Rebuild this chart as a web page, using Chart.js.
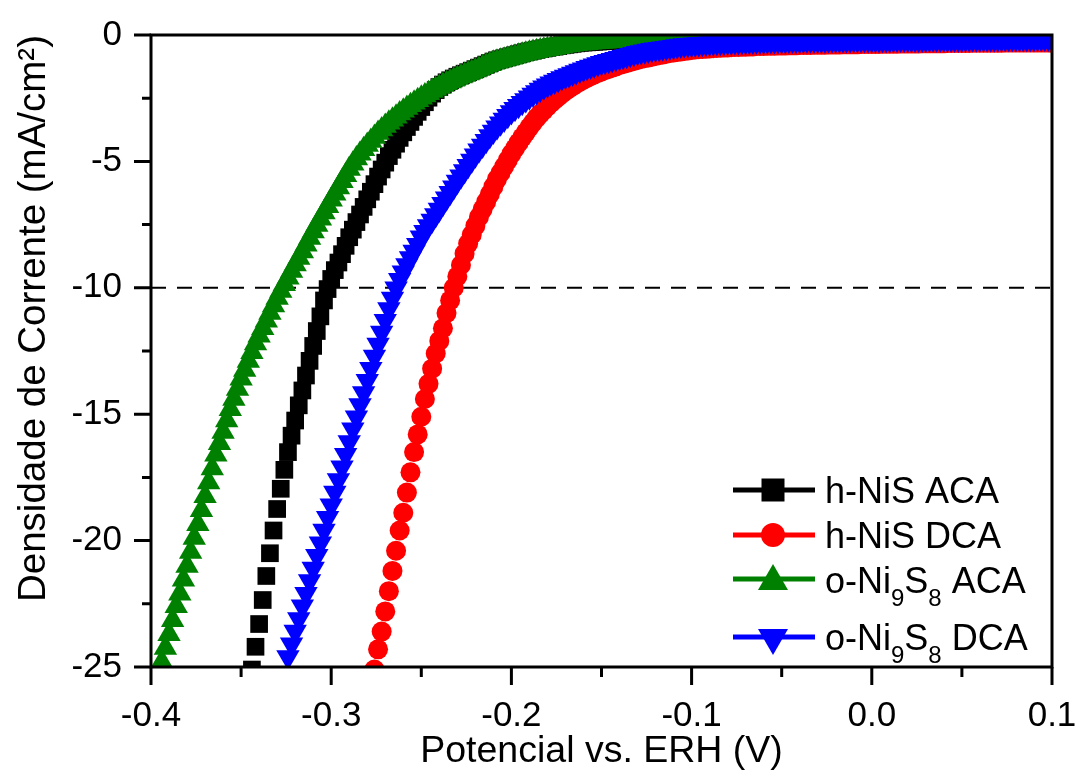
<!DOCTYPE html>
<html lang="pt">
<head>
<meta charset="UTF-8">
<title>Densidade de Corrente vs Potencial</title>
<script src="https://cdn.jsdelivr.net/npm/chart.js"></script>
<style>
  html, body { margin: 0; padding: 0; background: #ffffff; }
  #caixa { width: 1075px; height: 774px; }
</style>
</head>
<body>
<div id="caixa"><canvas id="grafico"></canvas></div>
<script>
// passo de potencial das varreduras (V)
const passo = 0.002;

// h-NiS ACA
const inicioNiSACA = -0.344;
const jNiSACA = [
  -25.1, -24.2, -23.3, -22.35, -21.4, -20.5, -19.6, -18.75, -17.95, -17.2,
  -16.5, -15.85, -15.25, -14.65, -14.06, -13.47, -12.89, -12.3, -11.71, -11.13,
  -10.5, -10.05, -9.65, -9.3, -9.0, -8.67, -8.34, -8.0, -7.7, -7.4,
  -7.1, -6.8, -6.5, -6.2, -5.9, -5.6, -5.32, -5.05, -4.79, -4.54,
  -4.3, -4.07, -3.85, -3.64, -3.44, -3.24, -3.04, -2.85, -2.66, -2.48,
  -2.32, -2.18, -2.06, -1.96, -1.87, -1.79, -1.72, -1.65, -1.59, -1.53,
  -1.47, -1.41, -1.35, -1.29, -1.23, -1.17, -1.11, -1.05, -1.0, -0.96,
  -0.92, -0.88, -0.84, -0.8, -0.76, -0.72, -0.68, -0.65, -0.62, -0.59,
  -0.56, -0.53, -0.51, -0.48, -0.46, -0.44, -0.41, -0.39, -0.37, -0.35,
  -0.33, -0.31, -0.3, -0.29, -0.28, -0.27, -0.26, -0.25, -0.24, -0.23,
  -0.22, -0.22, -0.21, -0.21, -0.2, -0.2, -0.19, -0.19, -0.19, -0.18,
  -0.18, -0.18, -0.18, -0.18, -0.18, -0.17, -0.17, -0.17, -0.17, -0.17,
  -0.17, -0.17, -0.17, -0.16, -0.16, -0.16, -0.16, -0.16, -0.16, -0.16,
  -0.16, -0.16, -0.16, -0.15, -0.15, -0.15, -0.15, -0.15, -0.15, -0.15,
  -0.15, -0.15, -0.15, -0.15, -0.14, -0.14, -0.14, -0.14, -0.14, -0.14,
  -0.14, -0.14, -0.14, -0.14, -0.14, -0.13, -0.13, -0.13, -0.13, -0.13,
  -0.13, -0.13, -0.13, -0.13, -0.13, -0.13, -0.13, -0.13, -0.13, -0.13,
  -0.13, -0.13, -0.12, -0.12, -0.12, -0.12, -0.12, -0.12, -0.12, -0.12,
  -0.12, -0.12, -0.12, -0.12, -0.12, -0.12, -0.12, -0.12, -0.12, -0.12,
  -0.12, -0.12, -0.11, -0.11, -0.11, -0.11, -0.11, -0.11, -0.11, -0.11,
  -0.11, -0.11, -0.11, -0.11, -0.11, -0.11, -0.11, -0.11, -0.11, -0.11,
  -0.11, -0.11, -0.1, -0.1, -0.1, -0.1, -0.1, -0.1, -0.1, -0.1,
  -0.1, -0.1, -0.1
];

// h-NiS DCA
const inicioNiSDCA = -0.276;
const jNiSDCA = [
  -25.1, -24.3, -23.6, -22.8, -22.0, -21.2, -20.4, -19.6, -18.9, -18.1,
  -17.3, -16.5, -15.8, -15.1, -14.4, -13.8, -13.2, -12.6, -12.1, -11.6,
  -11.0, -10.5, -10.0, -9.55, -9.1, -8.65, -8.25, -7.9, -7.55, -7.2,
  -6.9, -6.6, -6.3, -6.0, -5.7, -5.45, -5.2, -4.95, -4.7, -4.48,
  -4.26, -4.05, -3.85, -3.65, -3.46, -3.28, -3.12, -2.97, -2.83, -2.69,
  -2.56, -2.44, -2.32, -2.21, -2.11, -2.02, -1.93, -1.85, -1.77, -1.7,
  -1.63, -1.56, -1.5, -1.44, -1.39, -1.34, -1.29, -1.24, -1.19, -1.15,
  -1.11, -1.07, -1.03, -0.99, -0.95, -0.92, -0.89, -0.86, -0.83, -0.8,
  -0.77, -0.74, -0.71, -0.69, -0.67, -0.65, -0.63, -0.61, -0.59, -0.57,
  -0.56, -0.55, -0.54, -0.53, -0.52, -0.51, -0.5, -0.49, -0.49, -0.48,
  -0.47, -0.47, -0.46, -0.46, -0.45, -0.45, -0.44, -0.44, -0.44, -0.43,
  -0.43, -0.43, -0.42, -0.42, -0.42, -0.41, -0.41, -0.41, -0.4, -0.4,
  -0.4, -0.4, -0.39, -0.39, -0.39, -0.39, -0.38, -0.38, -0.38, -0.38,
  -0.37, -0.37, -0.37, -0.37, -0.37, -0.36, -0.36, -0.36, -0.36, -0.36,
  -0.36, -0.35, -0.35, -0.35, -0.35, -0.35, -0.34, -0.34, -0.34, -0.34,
  -0.34, -0.34, -0.33, -0.33, -0.33, -0.33, -0.33, -0.33, -0.33, -0.32,
  -0.32, -0.32, -0.32, -0.32, -0.32, -0.32, -0.31, -0.31, -0.31, -0.31,
  -0.31, -0.31, -0.31, -0.31, -0.31, -0.3, -0.3, -0.3, -0.3, -0.3,
  -0.3, -0.3, -0.3, -0.3, -0.3, -0.3, -0.3, -0.3, -0.3
];

// o-Ni9S8 ACA
const inicioNi9S8ACA = -0.396;
const jNi9S8ACA = [
  -25.3, -24.8, -24.25, -23.7, -23.15, -22.6, -22.1, -21.55, -21.0, -20.45,
  -19.9, -19.35, -18.8, -18.25, -17.7, -17.15, -16.6, -16.15, -15.7, -15.25,
  -14.8, -14.4, -14.0, -13.6, -13.25, -12.9, -12.55, -12.2, -11.9, -11.6,
  -11.3, -11.0, -10.7, -10.4, -10.13, -9.86, -9.6, -9.34, -9.08, -8.82,
  -8.56, -8.3, -8.03, -7.77, -7.52, -7.27, -7.02, -6.77, -6.52, -6.28,
  -6.03, -5.79, -5.55, -5.3, -5.09, -4.89, -4.7, -4.52, -4.35, -4.19,
  -4.03, -3.88, -3.74, -3.6, -3.47, -3.35, -3.23, -3.11, -3.0, -2.89,
  -2.78, -2.68, -2.58, -2.48, -2.39, -2.3, -2.22, -2.14, -2.06, -1.98,
  -1.91, -1.84, -1.77, -1.7, -1.64, -1.58, -1.52, -1.46, -1.4, -1.34,
  -1.28, -1.22, -1.16, -1.1, -1.06, -1.02, -0.98, -0.94, -0.9, -0.86,
  -0.82, -0.78, -0.74, -0.7, -0.67, -0.64, -0.61, -0.58, -0.56, -0.53,
  -0.51, -0.48, -0.45, -0.43, -0.41, -0.39, -0.37, -0.35, -0.34, -0.33,
  -0.31, -0.3, -0.29, -0.28, -0.27, -0.26, -0.25, -0.25, -0.24, -0.23,
  -0.23, -0.22, -0.22, -0.21, -0.21, -0.2, -0.2, -0.2, -0.2, -0.19,
  -0.19, -0.19, -0.19, -0.18, -0.18, -0.18, -0.18, -0.17, -0.17, -0.17,
  -0.17, -0.17, -0.16, -0.16, -0.16, -0.16, -0.16, -0.16, -0.16, -0.15,
  -0.15, -0.15, -0.15, -0.15, -0.15, -0.15, -0.15, -0.15, -0.14, -0.14,
  -0.14, -0.14, -0.14, -0.14, -0.14, -0.14, -0.14, -0.13, -0.13, -0.13,
  -0.13, -0.13, -0.13, -0.13, -0.13, -0.13, -0.13, -0.13, -0.13, -0.13,
  -0.13, -0.13, -0.12, -0.12, -0.12, -0.12, -0.12, -0.12, -0.12, -0.12,
  -0.12, -0.12, -0.12, -0.12, -0.12, -0.12, -0.12, -0.12, -0.12, -0.12,
  -0.12, -0.12, -0.12, -0.11, -0.11, -0.11, -0.11, -0.11, -0.11, -0.11,
  -0.11, -0.11, -0.11, -0.11, -0.11, -0.11, -0.11, -0.11, -0.11, -0.11,
  -0.11, -0.11, -0.11, -0.1, -0.1, -0.1, -0.1, -0.1, -0.1, -0.1,
  -0.1, -0.1, -0.1, -0.1, -0.1, -0.1, -0.1, -0.1, -0.1
];

// o-Ni9S8 DCA
const inicioNi9S8DCA = -0.324;
const jNi9S8DCA = [
  -24.6, -24.1, -23.6, -23.1, -22.6, -22.1, -21.6, -21.1, -20.6, -20.1,
  -19.6, -19.1, -18.6, -18.1, -17.6, -17.1, -16.6, -16.1, -15.6, -15.12,
  -14.64, -14.16, -13.68, -13.2, -12.72, -12.24, -11.77, -11.3, -10.84, -10.42,
  -10.02, -9.68, -9.38, -9.1, -8.82, -8.56, -8.3, -8.0, -7.78, -7.56,
  -7.34, -7.12, -6.9, -6.68, -6.46, -6.24, -6.02, -5.8, -5.59, -5.38,
  -5.17, -4.96, -4.76, -4.56, -4.37, -4.18, -4.0, -3.82, -3.65, -3.49,
  -3.34, -3.19, -3.05, -2.92, -2.8, -2.68, -2.57, -2.46, -2.35, -2.25,
  -2.16, -2.07, -1.99, -1.91, -1.84, -1.77, -1.7, -1.64, -1.58, -1.52,
  -1.46, -1.4, -1.35, -1.3, -1.25, -1.2, -1.15, -1.1, -1.06, -1.02,
  -0.98, -0.94, -0.9, -0.86, -0.82, -0.78, -0.74, -0.7, -0.67, -0.64,
  -0.61, -0.58, -0.56, -0.54, -0.52, -0.5, -0.48, -0.46, -0.44, -0.42,
  -0.4, -0.39, -0.38, -0.37, -0.36, -0.35, -0.34, -0.33, -0.32, -0.31,
  -0.31, -0.3, -0.29, -0.29, -0.28, -0.28, -0.27, -0.27, -0.26, -0.26,
  -0.25, -0.25, -0.25, -0.24, -0.24, -0.24, -0.23, -0.23, -0.23, -0.22,
  -0.22, -0.22, -0.22, -0.21, -0.21, -0.21, -0.21, -0.21, -0.21, -0.21,
  -0.2, -0.2, -0.2, -0.2, -0.2, -0.2, -0.2, -0.19, -0.19, -0.19,
  -0.19, -0.19, -0.19, -0.19, -0.19, -0.19, -0.19, -0.19, -0.18, -0.18,
  -0.18, -0.18, -0.18, -0.18, -0.18, -0.18, -0.18, -0.18, -0.17, -0.17,
  -0.17, -0.17, -0.17, -0.17, -0.17, -0.17, -0.17, -0.17, -0.16, -0.16,
  -0.16, -0.16, -0.16, -0.16, -0.16, -0.16, -0.16, -0.16, -0.15, -0.15,
  -0.15, -0.15, -0.15, -0.15, -0.15, -0.15, -0.15, -0.15, -0.14, -0.14,
  -0.14, -0.14, -0.14
];

const rotulos = ['h-NiS ACA', 'h-NiS DCA', 'o-Ni_9S_8 ACA', 'o-Ni_9S_8 DCA'];
const cores = ['#000000', '#ff0000', '#008000', '#0000ff'];

const ticksX = [-0.4, -0.3, -0.2, -0.1, 0.0, 0.1];
const ticksXMenores = [-0.35, -0.25, -0.15, -0.05, 0.05];
const ticksY = [0, -5, -10, -15, -20, -25];
const ticksYMenores = [-2.5, -7.5, -12.5, -17.5, -22.5];
const limitesX = [-0.4, 0.1];
const jReferencia = -10;

const fonte = "'Liberation Sans', Arial, sans-serif";
Chart.defaults.font.family = fonte;
Chart.defaults.color = '#000000';

function pontos(inicio, valores) {
  return valores.map((j, i) => ({ x: +(inicio + i * passo).toFixed(3), y: j }));
}

function serie(k, inicio, valores, estilo, raio, ordem, rotacao) {
  return {
    label: rotulos[k],
    data: pontos(inicio, valores),
    showLine: false,
    pointStyle: estilo,
    pointRadius: raio,
    pointHoverRadius: raio,
    pointRotation: rotacao || 0,
    pointBackgroundColor: cores[k],
    pointBorderColor: cores[k],
    pointBorderWidth: 0,
    borderColor: cores[k],
    backgroundColor: cores[k],
    clip: 0,
    order: ordem
  };
}

// sem folga extra para os rótulos: área do gráfico fica fixa
function semFolga(s) {
  s.paddingTop = 0; s.paddingBottom = 0; s.paddingLeft = 0; s.paddingRight = 0;
}

// moldura + ticks maiores/menores
const moldura = {
  id: 'moldura',
  afterDraw(chart) {
    const { ctx, chartArea: a, scales } = chart;
    const sx = scales.x, sy = scales.y;
    ctx.save();
    ctx.strokeStyle = '#000';
    ctx.lineWidth = 3;
    ctx.strokeRect(a.left, a.top, a.right - a.left, a.bottom - a.top);
    ctx.beginPath();
    ticksX.forEach(v => { const p = sx.getPixelForValue(v); ctx.moveTo(p, a.bottom); ctx.lineTo(p, a.bottom + 18); });
    ticksXMenores.forEach(v => { const p = sx.getPixelForValue(v); ctx.moveTo(p, a.bottom); ctx.lineTo(p, a.bottom + 10); });
    ticksY.forEach(v => { const p = sy.getPixelForValue(v); ctx.moveTo(a.left, p); ctx.lineTo(a.left - 17, p); });
    ticksYMenores.forEach(v => { const p = sy.getPixelForValue(v); ctx.moveTo(a.left, p); ctx.lineTo(a.left - 9, p); });
    ctx.stroke();
    ctx.restore();
  }
};

function desenharRotulo(ctx, texto, x, base) {
  // "_9" vira subscrito
  const partes = texto.split(/_(\d)/);
  partes.forEach((p, k) => {
    const sub = k % 2 === 1;
    ctx.font = (sub ? 24 : 36) + 'px ' + fonte;
    ctx.fillText(p, x, sub ? base + 13 : base);
    x += ctx.measureText(p).width;
  });
}

function desenharMarcador(ctx, estilo, x, y) {
  ctx.beginPath();
  if (estilo === 'rect') {
    ctx.rect(x - 11.5, y - 11.5, 23, 23);
  } else if (estilo === 'circle') {
    ctx.arc(x, y, 12, 0, Math.PI * 2);
  } else if (estilo === 'up') {
    ctx.moveTo(x, y - 13); ctx.lineTo(x + 15, y + 13); ctx.lineTo(x - 15, y + 13); ctx.closePath();
  } else {
    ctx.moveTo(x, y + 13); ctx.lineTo(x + 15, y - 13); ctx.lineTo(x - 15, y - 13); ctx.closePath();
  }
  ctx.fill();
}

const legenda = {
  id: 'legenda',
  afterDraw(chart) {
    const ctx = chart.ctx;
    const linhas = [490, 535, 579, 637];
    const marcas = [490, 535, 577, 642];
    const bases = [503, 548, 593, 650];
    const estilos = ['rect', 'circle', 'up', 'down'];
    ctx.save();
    ctx.textBaseline = 'alphabetic';
    ctx.textAlign = 'left';
    rotulos.forEach((r, k) => {
      ctx.strokeStyle = cores[k];
      ctx.fillStyle = cores[k];
      ctx.lineWidth = 5;
      ctx.beginPath();
      ctx.moveTo(733, linhas[k]);
      ctx.lineTo(815, linhas[k]);
      ctx.stroke();
      desenharMarcador(ctx, estilos[k], 773, marcas[k]);
      ctx.fillStyle = '#000';
      desenharRotulo(ctx, r, 825, bases[k]);
    });
    ctx.restore();
  }
};

new Chart(document.getElementById('grafico'), {
  type: 'scatter',
  data: {
    datasets: [
      serie(0, inicioNiSACA, jNiSACA, 'rect', 12.5, 4),
      serie(1, inicioNiSDCA, jNiSDCA, 'circle', 10, 3),
      serie(2, inicioNi9S8ACA, jNi9S8ACA, 'triangle', 13.5, 2),
      serie(3, inicioNi9S8DCA, jNi9S8DCA, 'triangle', 13.5, 1, 180),
      {
        label: 'ref',
        data: limitesX.map(v => ({ x: v, y: jReferencia })),
        showLine: true,
        borderColor: '#000',
        borderWidth: 2,
        borderDash: [15, 11],
        pointRadius: 0,
        clip: 0,
        order: 9
      }
    ]
  },
  options: {
    responsive: true,
    maintainAspectRatio: false,
    animation: false,
    events: [],
    layout: { padding: { top: 35, right: 23, bottom: 0, left: 0 } },
    plugins: { legend: { display: false }, tooltip: { enabled: false } },
    scales: {
      x: {
        type: 'linear',
        min: limitesX[0],
        max: limitesX[1],
        afterBuildTicks: s => { s.ticks = ticksX.map(v => ({ value: v })); },
        afterFit: s => { s.height = 107; semFolga(s); },
        grid: { display: false, drawTicks: false },
        border: { display: false },
        ticks: {
          font: { size: 35 },
          color: '#000',
          padding: 28,
          maxRotation: 0,
          autoSkip: false,
          callback: v => v.toFixed(1)
        },
        title: {
          display: true,
          text: 'Potencial vs. ERH (V)',
          font: { size: 37.5 },
          color: '#000',
          padding: { top: 0, bottom: 0 }
        }
      },
      y: {
        type: 'linear',
        min: -25,
        max: 0,
        afterBuildTicks: s => { s.ticks = ticksY.map(v => ({ value: v })); },
        afterFit: s => { s.width = 151; semFolga(s); },
        grid: { display: false, drawTicks: false },
        border: { display: false },
        ticks: {
          font: { size: 35 },
          color: '#000',
          padding: 29,
          autoSkip: false,
          callback: v => String(v)
        },
        title: {
          display: true,
          text: 'Densidade de Corrente (mA/cm²)',
          font: { size: 38.5 },
          color: '#000',
          align: 'end',
          padding: { top: 11, bottom: 0 }
        }
      }
    }
  },
  plugins: [moldura, legenda]
});
</script>
</body>
</html>
